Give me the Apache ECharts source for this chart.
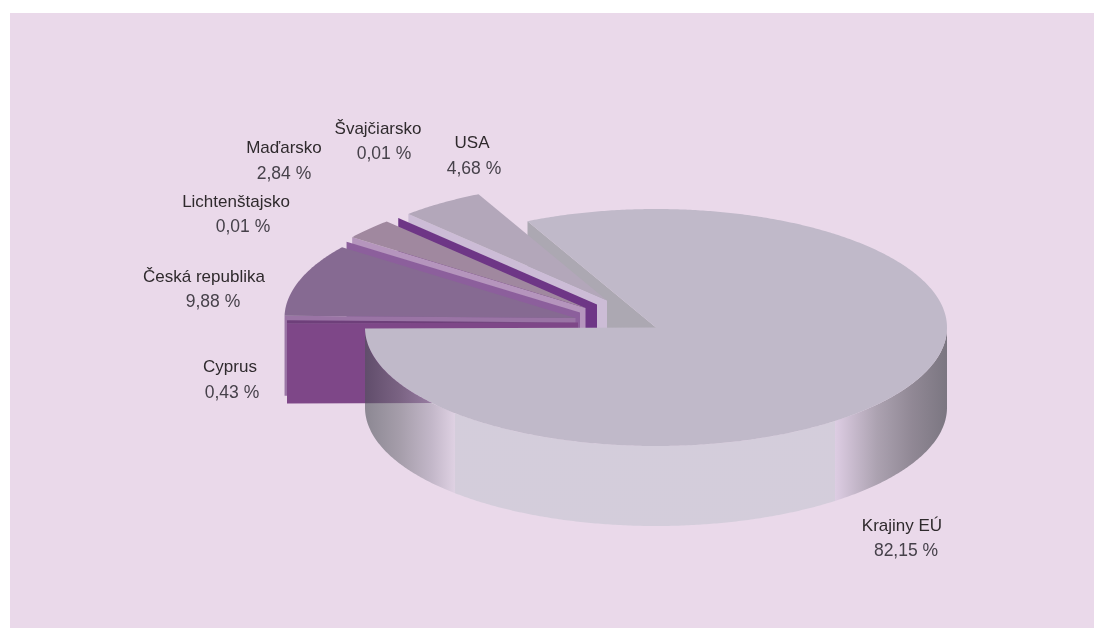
<!DOCTYPE html>
<html><head><meta charset="utf-8">
<style>html,body{margin:0;padding:0;background:#fff}#c{width:1094px;height:628px}</style>
<script src="https://cdn.jsdelivr.net/npm/echarts@6/dist/echarts.min.js"></script>
</head><body><div id="c"></div>
<script>
const categories = ['USA','Švajčiarsko','Maďarsko','Lichtenštajsko','Česká republika','Cyprus','Krajiny EÚ'];
const shares = [4.68,0.01,2.84,0.01,9.88,0.43,82.15];

const FONT='"Liberation Sans",Arial,sans-serif';
const CX=656,CY=327.5,RX=291,RY=118.5,DEPTH=80,START=116.2;
const OFFSET=[[-49,-27],[-59,-23],[-70.5,-19.5],[-76,-15],[-80.5,-9.5],[-78,-5],[0,0]];
const TOPC=['#b3a7ba','#6e3686','#a0889f','#8c5f9c','#866a92','#6e3f7a','#c0b9c9'];
const CUTC=['#ccbcd6','#6e3686','#b595bd','#8c5f9c','#9a74a5','#7e4788','#aca8b2'];
const LABELS=[[472,143,474,169],[378,129,384,154],[284,148,284,174],[236,202,243,227],[204,277,213,302],[230,367,232,393],[902,526,906,551]];
const PANEL=[10,13,1084,615];

const total=shares.reduce((a,b)=>a+b,0);
let acc=START;
const spans=shares.map(v=>{const s=acc;acc+=v/total*360;return [s,acc];});
function pt(i,deg,dy){const r=deg*Math.PI/180,o=OFFSET[i];return [CX+o[0]+RX*Math.cos(r),CY+o[1]-RY*Math.sin(r)+(dy||0)];}
function arc(i,a,b,dy){const n=Math.max(2,Math.ceil(Math.abs(b-a)/0.5)),p=[];for(let k=0;k<=n;k++)p.push(pt(i,a+(b-a)*k/n,dy));return p;}
function apex(i,dy){return [CX+OFFSET[i][0],CY+OFFSET[i][1]+(dy||0)];}
function poly(points,fill){return {type:'polygon',shape:{points},style:{fill,stroke:null}};}
function cutFace(i,deg){return poly([pt(i,deg),apex(i),apex(i,DEPTH),pt(i,deg,DEPTH)],CUTC[i]);}
function topFace(i){const s=spans[i];return poly(arc(i,s[0],s[1]).concat([apex(i)]),TOPC[i]);}
function grp(arr){return {type:'group',children:arr};}

const wallStops=[
 [0,'rgba(77,81,88,.6)'],[.06,'rgba(120,118,128,.6)'],[.115,'rgba(169,161,179,.6)'],[.154,'rgba(214,203,221,.6)'],
 [.155,'rgba(197,197,209,.6)'],[.807,'rgba(197,197,209,.6)'],[.808,'rgba(212,196,222,.6)'],
 [.88,'rgba(130,125,138,.6)'],[.94,'rgba(85,82,92,.6)'],[1,'rgba(49,52,59,.6)']];
const wallFill=new echarts.graphic.LinearGradient(CX-RX,0,CX+RX,0,wallStops.map(s=>({offset:s[0],color:s[1]})),true);

const labelEls=categories.map((c,i)=>{const p=LABELS[i];return grp([
 {type:'text',style:{x:p[0],y:p[1],text:c,font:'17px '+FONT,fill:'#2f2a2d',align:'center',verticalAlign:'middle'}},
 {type:'text',style:{x:p[2],y:p[3],text:shares[i].toFixed(2).replace('.',',')+' %',font:'17.5px '+FONT,fill:'#46414a',align:'center',verticalAlign:'middle'}}
]);});

const M=categories.length-1;
const chart=echarts.init(document.getElementById('c'),null,{renderer:'canvas'});
chart.setOption({
 animation:false,
 backgroundColor:'#ffffff',
 graphic:[{type:'rect',z:-10,shape:{x:PANEL[0],y:PANEL[1],width:PANEL[2],height:PANEL[3]},style:{fill:'#ead9ea'}}],
 series:[
  {type:'custom',coordinateSystem:'none',silent:true,z:1,data:[[shares[M]]],
   renderItem:()=>cutFace(M,spans[M][1])},
  {type:'custom',coordinateSystem:'none',silent:true,z:2,data:shares.slice(0,M).map(v=>[v]),
   renderItem:(p)=>{const i=p.dataIndex;return grp([cutFace(i,spans[i][1]),topFace(i)]);}},
  {type:'custom',coordinateSystem:'none',silent:true,z:3,data:[[shares[M]]],
   renderItem:()=>{const up=arc(M,180.5,360),low=arc(M,360,180.5,DEPTH);
     return grp([poly(up.concat(low),wallFill),topFace(M)]);}},
  {type:'custom',coordinateSystem:'none',silent:true,z:4,data:categories.map(c=>[c]),
   renderItem:(p)=>labelEls[p.dataIndex]}
 ]
});
</script></body></html>
